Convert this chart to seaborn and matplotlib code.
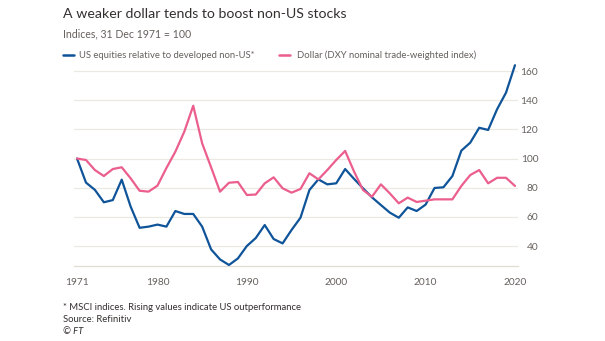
import numpy as np
import pandas as pd
import matplotlib
matplotlib.use("Agg")
import matplotlib.pyplot as plt
import seaborn as sns

years = list(range(1971, 2021))

us_vs_non_us = [
    100, 83.5, 78.5, 70, 71.5, 85.5, 67, 52.5, 53.3, 54.7,
    53.3, 64, 62, 62, 53.3, 37.7, 30.8, 27, 31.5, 40,
    45.5, 54.4, 44.8, 41.8, 51, 59.4, 78.4, 85.7, 82.3, 83,
    92.8, 86, 79.6, 73.4, 68.1, 62.9, 59.4, 66.5, 64, 68.4,
    79.8, 80.3, 88, 105.4, 110.9, 121.1, 119.6, 133.8, 145.2, 164,
]

dollar_dxy = [
    100, 99, 92.1, 88, 92.8, 94, 86.4, 77.9, 77.3, 81.4,
    93.5, 104.7, 118.4, 136.2, 110.4, 94, 77.3, 83.4, 83.9, 75,
    75.3, 83, 87.1, 79.6, 76.6, 79.1, 89.9, 85.7, 92.1, 99,
    105.2, 91, 78.4, 73.8, 82.3, 76.1, 69.3, 73.2, 70.2, 71.1,
    72, 72, 72, 81.2, 88.7, 92.1, 83, 86.8, 86.8, 81.2,
]

series_names = [
    "US equities relative to developed non-US*",
    "Dollar (DXY nominal trade-weighted index)",
]
series_colors = ["#0f5499", "#eb5e8d"]

y_ticks = [40, 60, 80, 100, 120, 140, 160]
x_major = [1971, 1980, 1990, 2000, 2010, 2020]

df = pd.DataFrame({
    "year": years * 2,
    "value": us_vs_non_us + dollar_dxy,
    "series": [series_names[0]] * len(years) + [series_names[1]] * len(years),
})

sns.set_theme(style="white")
plt.rcParams["font.family"] = ["Lato", "DejaVu Sans"]

DPI = 100
W, H = 605, 341
fig = plt.figure(figsize=(W / DPI, H / DPI), dpi=DPI, facecolor="white")

# plot area in pixel coordinates
left, right, top, bottom = 74, 518, 62, 266
ax = fig.add_axes([left / W, (H - bottom) / H, (right - left) / W, (bottom - top) / H])
ax.set_facecolor("white")

sns.lineplot(
    data=df, x="year", y="value", hue="series",
    palette=dict(zip(series_names, series_colors)),
    linewidth=1.6, legend=False, ax=ax, zorder=3,
)

ax.set_xlim(1970.66, 2020.34)
ax.set_ylim(26.3, 166.2)

# gridlines
grid_color = "#ece8e2"
for v in y_ticks:
    ax.axhline(v, color=grid_color, lw=0.9, zorder=1)

for s in ["top", "left", "right"]:
    ax.spines[s].set_visible(False)
ax.spines["bottom"].set_color("#e0dbd3")
ax.spines["bottom"].set_linewidth(0.9)

text_gray = "#66605c"

# y ticks on the right, labels right-aligned
ax.yaxis.tick_right()
ax.set_yticks(y_ticks)
ax.set_yticklabels([str(v) for v in y_ticks])
ax.tick_params(axis="y", length=0, pad=14.5, labelsize=7.3, labelcolor=text_gray)
for lbl in ax.get_yticklabels():
    lbl.set_horizontalalignment("right")

# x ticks: yearly minor ticks, labelled decades
ax.set_xticks(x_major)
ax.set_xticklabels([str(v) for v in x_major])
ax.set_xticks(years, minor=True)
ax.tick_params(axis="x", which="major", direction="out", length=4.5, width=0.8,
               color="#d8d3cb", pad=4, labelsize=7.3, labelcolor=text_gray)
ax.tick_params(axis="x", which="minor", direction="out", length=3.8, width=0.8,
               color="#d8d3cb")
ax.set_xlabel("")
ax.set_ylabel("")

def px(x, y):
    return x / W, (H - y) / H

# titles
fig.text(*px(63, 13.5), "A weaker dollar tends to boost non-US stocks",
         fontsize=10.2, color="#33302e", va="center", ha="left")
fig.text(*px(63, 33.5), "Indices, 31 Dec 1971 = 100",
         fontsize=7.6, color=text_gray, va="center", ha="left")

# legend
leg_y = 55
for (x0, x1, tx), name, col in zip([(63, 73.5, 79), (279, 290, 297)], series_names, series_colors):
    fig.add_artist(plt.Line2D([x0 / W, x1 / W], [(H - leg_y) / H] * 2,
                              color=col, lw=1.8, transform=fig.transFigure))
    fig.text(*px(tx, leg_y), name, fontsize=6.8, color=text_gray, va="center", ha="left")

# footnotes
fig.text(*px(63, 308), "* MSCI indices. Rising values indicate US outperformance",
         fontsize=6.8, color="#33302e", va="center", ha="left")
fig.text(*px(63, 320), "Source: Refinitiv",
         fontsize=6.8, color="#33302e", va="center", ha="left")
fig.text(*px(63, 332), "© FT",
         fontsize=6.8, color="#33302e", va="center", ha="left", style="italic")

fig.savefig("out.png", dpi=DPI, facecolor="white")
